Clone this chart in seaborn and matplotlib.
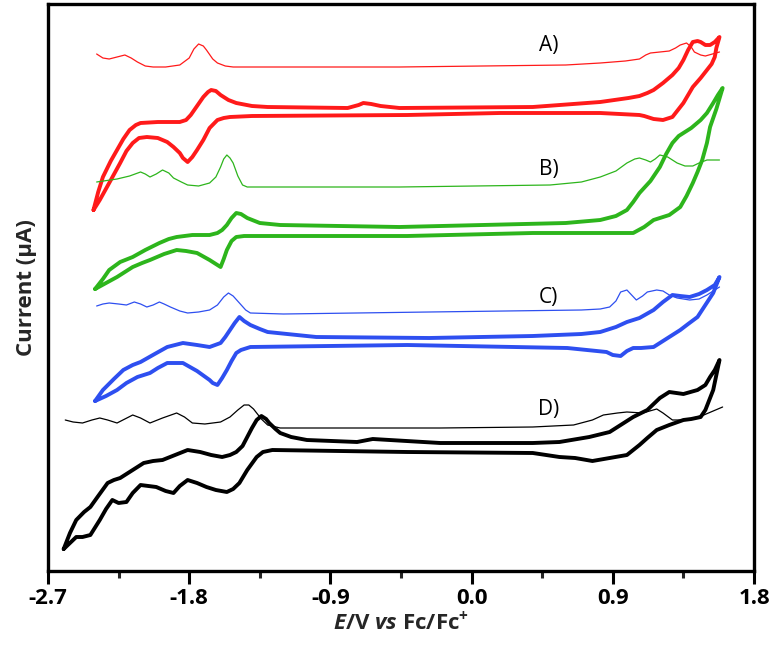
import numpy as np
import pandas as pd
import seaborn as sns
import matplotlib.pyplot as plt

# potentials in V vs Fc/Fc+, currents in arbitrary (offset) units
# --- A) red ---
dpv_a_x = [-2.39, -2.35, -2.31, -2.26, -2.21, -2.17, -2.13, -2.08, -2.03, -1.95, -1.86, -1.80,
           -1.77, -1.74, -1.71, -1.69, -1.65, -1.62, -1.57, -1.52, -0.46,
           0.60, 0.82, 0.98, 1.07, 1.11, 1.14, 1.20, 1.26, 1.30, 1.33, 1.37, 1.40, 1.42, 1.46,
           1.49, 1.58]
dpv_a_y = [51.7, 51.3, 51.2, 51.4, 51.6, 51.3, 50.9, 50.5, 50.4, 50.4, 50.6, 51.3,
           52.2, 52.7, 52.5, 52.1, 51.2, 50.8, 50.5, 50.4, 50.4,
           50.6, 50.8, 51.0, 51.2, 51.6, 51.8, 51.9, 52.0, 52.3, 52.6, 52.8, 52.4, 51.9, 51.6,
           51.5, 51.9]
cv_a_x = [-2.41, -2.38, -2.35, -2.30, -2.26, -2.22, -2.18, -2.14, -2.11, -2.00, -1.86, -1.82,
          -1.79, -1.75, -1.71, -1.68, -1.66, -1.63, -1.60, -1.55, -1.50, -1.40, -1.30,
          -0.79, -0.72, -0.69, -0.64, -0.58, -0.46, 0.39, 0.82, 1.00, 1.07, 1.12, 1.16, 1.22,
          1.28, 1.32, 1.35, 1.38, 1.41, 1.44, 1.46, 1.49, 1.52, 1.55, 1.58,
          1.56, 1.55, 1.53, 1.50, 1.46, 1.41, 1.38, 1.35, 1.31, 1.28, 1.22, 1.16, 1.10, 1.07,
          0.82, 0.18, -0.41, -1.40, -1.54, -1.58, -1.62, -1.67, -1.71, -1.75, -1.78, -1.81,
          -1.84, -1.86, -1.90, -1.94, -2.00, -2.07, -2.12, -2.16, -2.20, -2.24, -2.31, -2.37,
          -2.41]
cv_a_y = [36.1, 37.9, 39.4, 41.0, 42.1, 43.2, 44.1, 44.6, 44.8, 44.9, 44.9, 45.1,
          45.6, 46.5, 47.4, 47.9, 48.1, 48.0, 47.6, 47.1, 46.8, 46.5, 46.4,
          46.3, 46.6, 46.8, 46.7, 46.5, 46.3, 46.4, 46.9, 47.3, 47.5, 47.8, 48.1, 48.8,
          49.6, 50.3, 51.1, 52.1, 52.9, 53.0, 52.9, 52.6, 52.6, 52.9, 53.4,
          52.3, 51.4, 50.7, 50.1, 49.3, 48.4, 47.6, 46.8, 46.0, 45.4, 45.1, 45.2, 45.5, 45.6,
          45.8, 45.8, 45.6, 45.5, 45.4, 45.3, 45.1, 44.3, 43.1, 42.1, 41.4, 40.9,
          41.3, 41.8, 42.4, 42.9, 43.3, 43.4, 43.3, 42.8, 42.0, 40.8, 38.8, 37.1,
          36.1]

# --- B) green ---
dpv_b_x = [-2.39, -2.26, -2.18, -2.11, -2.08, -2.05, -2.01, -1.97, -1.93, -1.90, -1.85, -1.81,
           -1.74, -1.67, -1.63, -1.60, -1.58, -1.56, -1.54, -1.52, -1.49, -1.46, -1.43,
           -0.46, 0.50, 0.70, 0.82, 0.92, 0.99, 1.04, 1.07, 1.11, 1.14, 1.17, 1.20, 1.25, 1.28,
           1.31, 1.36, 1.41, 1.45, 1.50, 1.58]
dpv_b_y = [38.9, 39.2, 39.5, 39.9, 39.7, 39.4, 39.7, 40.1, 39.8, 39.3, 38.9, 38.6,
           38.5, 38.8, 39.4, 40.4, 41.2, 41.6, 41.3, 40.8, 39.5, 38.6, 38.4,
           38.4, 38.6, 38.9, 39.4, 40.0, 40.8, 41.2, 41.3, 41.1, 40.9, 41.2, 41.6, 41.4, 41.1,
           40.8, 40.5, 40.5, 40.8, 41.1, 41.1]
cv_b_x = [-2.40, -2.35, -2.31, -2.24, -2.16, -2.08, -1.99, -1.93, -1.88, -1.78, -1.67, -1.62,
          -1.59, -1.56, -1.53, -1.50, -1.47, -1.43, -1.35, -1.22, -0.46,
          0.60, 0.82, 0.92, 0.99, 1.03, 1.07, 1.14, 1.20, 1.24, 1.28, 1.32, 1.35, 1.40, 1.46,
          1.50, 1.54, 1.57, 1.60,
          1.56, 1.52, 1.50, 1.47, 1.44, 1.41, 1.37, 1.33, 1.26, 1.16, 1.10, 1.03, 0.39, -0.41,
          -1.45, -1.50, -1.53, -1.56, -1.58, -1.60, -1.63, -1.67, -1.75, -1.82, -1.88, -1.96,
          -2.05, -2.10, -2.16, -2.26, -2.33, -2.40]
cv_b_y = [28.2, 29.2, 30.1, 30.9, 31.4, 32.1, 32.8, 33.2, 33.4, 33.6, 33.6, 33.8,
          34.1, 34.6, 35.3, 35.8, 35.7, 35.3, 34.8, 34.6, 34.4,
          34.8, 35.1, 35.5, 36.1, 36.9, 37.8, 39.0, 40.4, 41.7, 42.8, 43.5, 43.8, 44.3, 45.1,
          45.8, 46.8, 47.6, 48.3,
          46.2, 44.4, 42.8, 41.1, 39.9, 38.8, 37.5, 36.4, 35.6, 35.1, 34.4, 33.8, 33.8, 33.5,
          33.5, 33.4, 33.0, 32.1, 31.2, 30.4, 30.7, 31.1, 31.8, 32.0, 32.1, 31.7,
          31.1, 30.8, 30.4, 29.4, 28.8, 28.2]

# --- C) blue ---
dpv_c_x = [-2.39, -2.35, -2.31, -2.25, -2.20, -2.15, -2.11, -2.07, -2.03, -1.99, -1.96, -1.92,
           -1.86, -1.81, -1.74, -1.67, -1.62, -1.58, -1.55, -1.52, -1.48, -1.44, -1.41, -1.20,
           -0.27, 0.70, 0.82, 0.88, 0.92, 0.95, 0.99, 1.02, 1.05, 1.09, 1.12, 1.18, 1.22, 1.26,
           1.31, 1.39, 1.45, 1.50, 1.58]
dpv_c_y = [26.5, 26.7, 26.8, 26.7, 26.6, 26.9, 26.7, 26.4, 26.6, 26.9, 26.7, 26.4,
           26.0, 25.8, 25.9, 26.1, 26.6, 27.4, 27.8, 27.5, 26.8, 26.1, 25.8, 25.7,
           25.9, 26.1, 26.2, 26.4, 27.0, 27.9, 28.1, 27.6, 27.1, 27.5, 27.9, 28.1, 28.0, 27.6,
           27.3, 27.1, 27.2, 27.6, 28.4]
cv_c_x = [-2.40, -2.35, -2.28, -2.22, -2.16, -2.11, -2.02, -1.94, -1.84, -1.75, -1.67, -1.60,
          -1.57, -1.54, -1.51, -1.48, -1.45, -1.41, -1.35, -1.30, -0.99, -0.27, 0.39, 0.70,
          0.82, 0.92, 0.99, 1.07, 1.16, 1.22, 1.28, 1.33, 1.39, 1.45, 1.50, 1.55, 1.58,
          1.56, 1.54, 1.49, 1.44, 1.38, 1.33, 1.24, 1.16, 1.08, 1.03, 0.99, 0.95, 0.90, 0.86,
          0.61, -0.41, -1.41, -1.47, -1.50, -1.53, -1.56, -1.59, -1.62, -1.65, -1.67, -1.75,
          -1.84, -1.94, -2.00, -2.05, -2.13, -2.20, -2.26, -2.33, -2.40]
cv_c_y = [17.0, 18.1, 19.2, 20.1, 20.6, 20.9, 21.7, 22.4, 22.8, 22.6, 22.4, 22.8,
          23.4, 24.1, 24.8, 25.4, 25.0, 24.6, 24.2, 23.9, 23.4, 23.3, 23.5, 23.7,
          23.9, 24.4, 24.9, 25.3, 26.1, 26.9, 27.6, 27.5, 27.4, 27.7, 28.1, 28.6, 29.4,
          28.6, 27.8, 26.6, 25.4, 24.7, 24.1, 23.2, 22.4, 22.3, 22.3, 22.0, 21.5, 21.6, 21.9,
          22.3, 22.6, 22.4, 22.1, 21.8, 21.0, 20.1, 19.3, 18.6, 18.8, 19.1, 20.0,
          20.8, 20.8, 20.3, 19.8, 19.4, 18.8, 18.1, 17.5, 17.0]

# --- D) black ---
dpv_d_x = [-2.59, -2.54, -2.48, -2.42, -2.37, -2.32, -2.26, -2.21, -2.16, -2.11, -2.05, -1.97,
           -1.88, -1.83, -1.78, -1.70, -1.60, -1.54, -1.49, -1.45, -1.42, -1.39, -1.34, -1.30,
           -1.22, -0.20, 0.39, 0.65, 0.77, 0.84, 0.93, 0.99, 1.09, 1.18, 1.22, 1.28, 1.37,
           1.48, 1.60]
dpv_d_y = [15.1, 14.9, 14.8, 15.1, 15.3, 15.1, 14.8, 15.2, 15.6, 15.3, 14.8, 15.3,
           15.8, 15.4, 14.8, 14.7, 14.9, 15.4, 16.1, 16.6, 16.6, 16.2, 15.2, 14.6,
           14.3, 14.3, 14.4, 14.6, 15.1, 15.6, 15.8, 15.9, 15.8, 16.2, 15.8, 15.1, 15.1,
           15.6, 16.4]
cv_d_x = [-2.60, -2.56, -2.52, -2.47, -2.43, -2.38, -2.32, -2.28, -2.24, -2.16, -2.09, -2.03,
          -1.97, -1.89, -1.81, -1.73, -1.66, -1.59, -1.54, -1.50, -1.46, -1.43, -1.40, -1.37,
          -1.34, -1.31, -1.29, -1.25, -1.22, -1.15, -1.05, -0.73, -0.63, -0.20, 0.39, 0.56,
          0.75, 0.88, 1.03, 1.12, 1.20, 1.26, 1.35, 1.44, 1.49, 1.52, 1.55, 1.58,
          1.56, 1.54, 1.49, 1.46, 1.40, 1.35, 1.26, 1.18, 1.12, 1.07, 0.99, 0.88, 0.77, 0.66,
          0.56, 0.39, -0.41, -1.27, -1.33, -1.37, -1.43, -1.48, -1.52, -1.56, -1.63, -1.69,
          -1.75, -1.81, -1.86, -1.90, -1.95, -2.01, -2.11, -2.16, -2.20, -2.25, -2.29, -2.33,
          -2.37, -2.43, -2.48, -2.52, -2.56, -2.60]
cv_d_y = [2.2, 3.8, 5.1, 5.9, 6.4, 7.5, 8.8, 9.1, 9.3, 10.1, 10.8, 11.0,
          11.1, 11.6, 12.1, 11.9, 11.6, 11.4, 11.6, 11.9, 12.5, 13.4, 14.3, 15.1,
          15.5, 15.2, 14.8, 14.2, 13.8, 13.4, 13.1, 12.9, 13.2, 12.8, 12.8, 12.9,
          13.4, 13.9, 15.4, 16.1, 17.3, 17.9, 17.7, 18.1, 18.6, 19.4, 20.1, 21.1,
          19.6, 18.1, 16.1, 15.4, 15.2, 15.1, 14.6, 14.1, 13.3, 12.6, 11.6, 11.3, 11.0, 11.3,
          11.4, 11.8, 11.9, 12.1, 11.9, 11.4, 10.1, 8.8, 8.2, 7.9, 8.1, 8.4,
          8.8, 9.1, 8.5, 7.8, 8.0, 8.4, 8.6, 7.8, 6.9, 6.8, 7.1, 6.2,
          5.1, 3.6, 3.4, 3.4, 2.8, 2.2]

labels = ["A)", "B)", "C)", "D)"]
label_y = [52.6, 40.1, 27.4, 16.1]
colors = ["#ff1a1a", "#2db51c", "#2e4ff0", "black"]

sns.set_theme(style="ticks")
plt.rcParams["font.family"] = ["Open Sans", "DejaVu Sans"]
plt.rcParams["mathtext.fontset"] = "custom"
plt.rcParams["mathtext.rm"] = "Open Sans:bold"
plt.rcParams["mathtext.it"] = "Open Sans:italic:bold"
plt.rcParams["mathtext.bf"] = "Open Sans:bold"

fig = plt.figure(figsize=(7.72, 6.52), dpi=100)
ax = fig.add_axes([48 / 772, 81 / 652, 706 / 772, 567 / 652])

dpv = [(dpv_a_x, dpv_a_y), (dpv_b_x, dpv_b_y), (dpv_c_x, dpv_c_y), (dpv_d_x, dpv_d_y)]
cv = [(cv_a_x, cv_a_y), (cv_b_x, cv_b_y), (cv_c_x, cv_c_y), (cv_d_x, cv_d_y)]

for (dx, dy), (cx, cy), col in zip(dpv, cv, colors):
    sns.lineplot(x=dx, y=dy, sort=False, estimator=None, color=col, lw=0.9, ax=ax,
                 solid_joinstyle="round")
    sns.lineplot(x=cx, y=cy, sort=False, estimator=None, color=col, lw=2.8, ax=ax,
                 solid_joinstyle="round", solid_capstyle="round")

for lab, ly in zip(labels, label_y):
    ax.text(0.49, ly, lab, ha="center", va="center", fontsize=15, color="black")

ax.set_xlim(-2.7, 1.8)
ax.set_ylim(0, 56.7)
ax.set_xticks(np.arange(-2.7, 1.81, 0.9))
ax.set_xticklabels(["-2.7", "-1.8", "-0.9", "0.0", "0.9", "1.8"], fontsize=16, fontweight="bold")
ax.set_xticks(np.arange(-2.25, 1.8, 0.9), minor=True)
ax.set_yticks([])
ax.tick_params(axis="x", which="major", length=9, width=2.2, direction="out", pad=3, colors="black")
ax.tick_params(axis="x", which="minor", length=5, width=2.2, direction="out")
for s in ax.spines.values():
    s.set_linewidth(2.4)
    s.set_color("black")
    s.set_visible(True)

ax.set_xlabel(r"$\it{E}$/V $\it{vs}$ Fc/Fc$^{+}$", fontsize=16, fontweight="bold", labelpad=1)
ax.set_ylabel("Current (µA)", fontsize=16, fontweight="bold", labelpad=8)

fig.savefig("out.png", dpi=100)
